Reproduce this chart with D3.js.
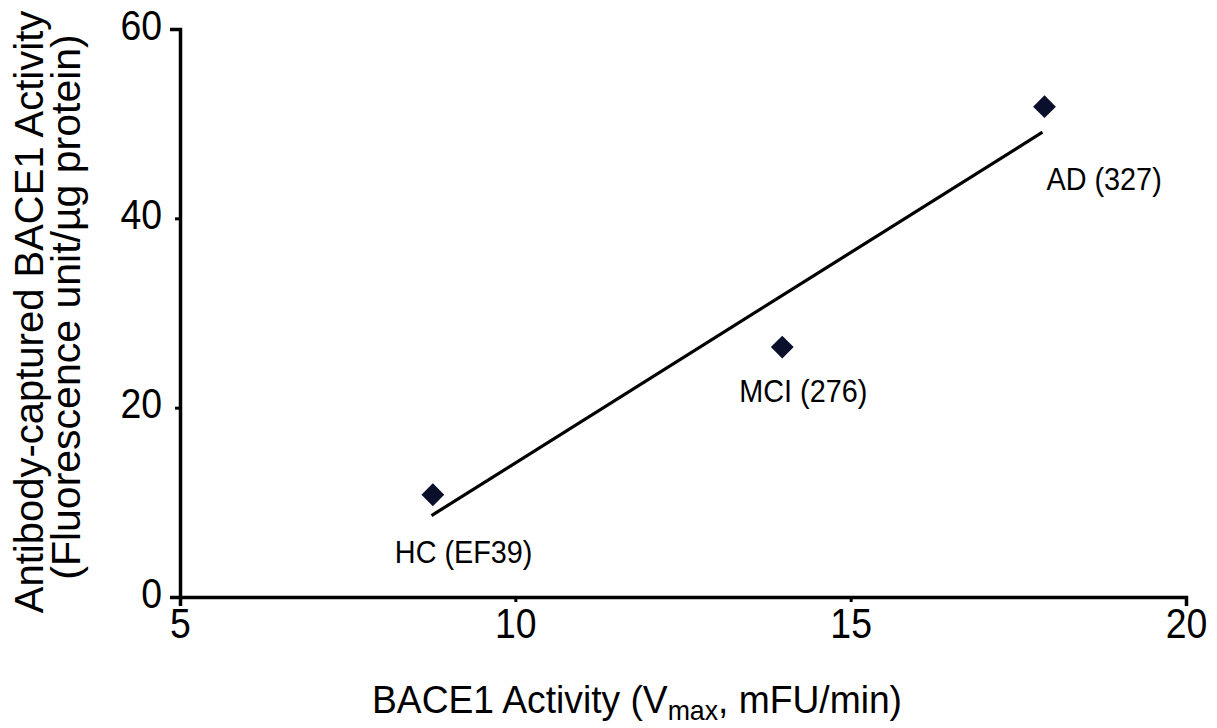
<!DOCTYPE html>
<html>
<head>
<meta charset="utf-8">
<script src="https://d3js.org/d3.v7.min.js"></script>
<style>
  body { margin: 0; background: #fff; }
  text { font-family: "Liberation Sans", Arial, sans-serif; fill: #000; }
</style>
</head>
<body>
<div id="my_dataviz"></div>
<script>
// data
var groups = ["HC (EF39)", "MCI (276)", "AD (327)"];
var bace1Vmax = [8.77, 13.98, 17.89];
var capturedActivity = [10.8, 26.4, 51.8];
// fitted line as drawn (end points)
var fitX = [8.75, 17.86];
var fitY = [8.6, 49.1];
var xTicks = [5, 10, 15, 20];
var yTicks = [0, 20, 40, 60];

// label offsets relative to each point (px)
var labelDx = [-38, -43, 2];
var labelDy = [68, 55, 83];

var width = 1217, height = 728;

// squeeze text horizontally, the source figure uses narrow fonts
function condense(sel, k) {
  sel.each(function() {
    var w = this.getComputedTextLength();
    d3.select(this)
      .attr("textLength", w * k)
      .attr("lengthAdjust", "spacingAndGlyphs");
  });
}

var svg = d3.select("#my_dataviz")
  .append("svg")
    .attr("width", width)
    .attr("height", height);

var x = d3.scaleLinear()
  .domain([5, 20])
  .range([180, 1186]);

var y = d3.scaleLinear()
  .domain([0, 60])
  .range([597, 29]);

// X axis
var xAxis = svg.append("g")
  .attr("transform", "translate(0," + y(0) + ")")
  .call(d3.axisBottom(x).tickValues(xTicks).tickSizeInner(5).tickSizeOuter(9).tickPadding(5));

// Y axis
var yAxis = svg.append("g")
  .attr("transform", "translate(" + x(5) + ",0)")
  .call(d3.axisLeft(y).tickValues(yTicks).tickSizeInner(5).tickSizeOuter(10).tickPadding(13));

svg.selectAll(".domain")
  .attr("stroke", "#000")
  .attr("stroke-width", 3.5);

svg.selectAll(".tick line")
  .attr("stroke", "#000")
  .attr("stroke-width", 3);

svg.selectAll(".tick text")
  .style("font-family", "'Liberation Sans', Arial, sans-serif")
  .style("font-size", "43px")
  .attr("fill", "#000")
  .call(condense, 0.87);

yAxis.selectAll(".tick text").attr("dy", "0.24em");

// fitted line
var fit = fitX.map(function(d, i) { return {x: d, y: fitY[i]}; });
svg.append("path")
  .datum(fit)
  .attr("d", d3.line()
    .x(function(d) { return x(d.x); })
    .y(function(d) { return y(d.y); })
  )
  .attr("stroke", "#000")
  .style("stroke-width", 3.2)
  .style("fill", "none");

// points
var pts = groups.map(function(g, i) { return {name: g, x: bace1Vmax[i], y: capturedActivity[i], i: i}; });

svg.append("g")
  .selectAll("path")
  .data(pts)
  .enter()
  .append("path")
    .attr("d", d3.symbol().type(d3.symbolSquare).size(260))
    .attr("transform", function(d) { return "translate(" + x(d.x) + "," + y(d.y) + ") rotate(45)"; })
    .attr("fill", "#0a0f2c");

svg.append("g")
  .selectAll("text")
  .data(pts)
  .enter()
  .append("text")
    .attr("x", function(d) { return x(d.x) + labelDx[d.i]; })
    .attr("y", function(d) { return y(d.y) + labelDy[d.i]; })
    .style("font-size", "32px")
    .text(function(d) { return d.name; })
    .call(condense, 0.9);

// x axis title
var xg = svg.append("g")
  .attr("transform", "translate(637,713)");
var xt = xg.append("text")
  .attr("text-anchor", "middle")
  .style("font-size", "39px");
xt.append("tspan").text("BACE1 Activity (V");
xt.append("tspan").attr("dy", 7).style("font-size", "28px").text("max");
xt.append("tspan").attr("dy", -7).text(",  mFU/min)");
var xw = xt.node().getBBox().width;
xg.attr("transform", "translate(637,713) scale(" + (530 / xw) + ",1)");

// y axis title
svg.append("text")
  .attr("transform", "translate(43,312) rotate(-90)")
  .attr("text-anchor", "middle")
  .style("font-size", "40px")
  .text("Antibody-captured BACE1 Activity");

svg.append("text")
  .attr("transform", "translate(80,307) rotate(-90)")
  .attr("text-anchor", "middle")
  .style("font-size", "41px")
  .text("(Fluorescence unit/µg protein)");
</script>
</body>
</html>
